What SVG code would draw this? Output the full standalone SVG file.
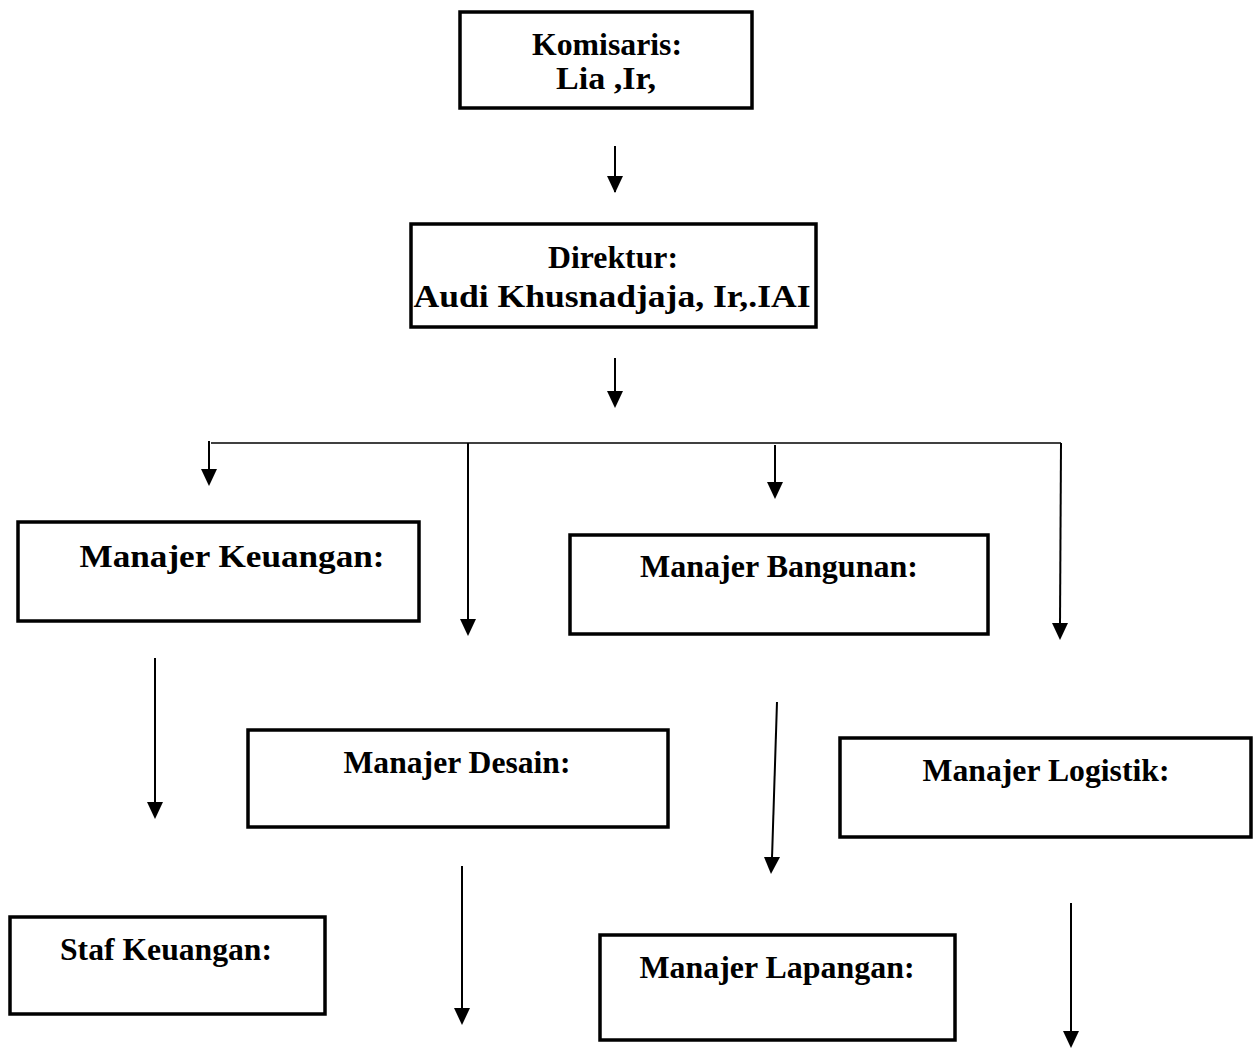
<svg xmlns="http://www.w3.org/2000/svg" width="1253" height="1048" viewBox="0 0 1253 1048">
<style>
.box{fill:#fff;stroke:#000;stroke-width:3.5}
.t{font-family:"Liberation Serif","Times New Roman",serif;font-weight:bold;font-size:32px;fill:#000;text-anchor:middle}
.c{fill:none;stroke:#000;stroke-width:2}
</style>
<rect width="1253" height="1048" fill="#fff"/>
<g id="connectors">
<line class="c" x1="615" y1="146" x2="615" y2="192"/>
<path d="M607,176 L623,176 L615,193 Z"/>
<line class="c" x1="615" y1="358" x2="615" y2="392"/>
<path d="M607,391 L623,391 L615,408 Z"/>
<line class="c" x1="211" y1="443" x2="1061" y2="443" style="stroke-width:1.6"/>
<line class="c" x1="209" y1="441" x2="209" y2="470"/>
<path d="M201,469 L217,469 L209,486 Z"/>
<line class="c" x1="468" y1="443" x2="468" y2="620"/>
<path d="M460,619 L476,619 L468,636 Z"/>
<line class="c" x1="775" y1="445" x2="775" y2="483"/>
<path d="M767,482 L783,482 L775,499 Z"/>
<line class="c" x1="1061" y1="443" x2="1060" y2="624"/>
<path d="M1052,623 L1068,623 L1060,640 Z"/>
<line class="c" x1="155" y1="658" x2="155" y2="803"/>
<path d="M147,802 L163,802 L155,819 Z"/>
<line class="c" x1="777" y1="702" x2="772" y2="858"/>
<path d="M764,857 L780,857 L771,874 Z"/>
<line class="c" x1="462" y1="866" x2="462" y2="1009"/>
<path d="M454,1008 L470,1008 L462,1025 Z"/>
<line class="c" x1="1071" y1="903" x2="1071" y2="1032"/>
<path d="M1063,1031 L1079,1031 L1071,1048 Z"/>
</g>
<g id="komisaris">
<rect class="box" x="460" y="12" width="292" height="96"/>
<text class="t" x="607" y="55" textLength="150" lengthAdjust="spacingAndGlyphs">Komisaris:</text>
<text class="t" x="606" y="89" textLength="100" lengthAdjust="spacingAndGlyphs">Lia ,Ir,</text>
</g>
<g id="direktur">
<rect class="box" x="411" y="224" width="405" height="103"/>
<text class="t" x="613" y="268" textLength="130" lengthAdjust="spacingAndGlyphs">Direktur:</text>
<text class="t" x="612" y="307" textLength="397" lengthAdjust="spacingAndGlyphs">Audi Khusnadjaja, Ir,.IAI</text>
</g>
<g id="manajer-keuangan">
<rect class="box" x="18" y="522" width="401" height="99"/>
<text class="t" x="232" y="567" textLength="305" lengthAdjust="spacingAndGlyphs">Manajer Keuangan:</text>
</g>
<g id="manajer-bangunan">
<rect class="box" x="570" y="535" width="418" height="99"/>
<text class="t" x="779" y="577" textLength="278" lengthAdjust="spacingAndGlyphs">Manajer Bangunan:</text>
</g>
<g id="manajer-desain">
<rect class="box" x="248" y="730" width="420" height="97"/>
<text class="t" x="457" y="773" textLength="227" lengthAdjust="spacingAndGlyphs">Manajer Desain:</text>
</g>
<g id="manajer-logistik">
<rect class="box" x="840" y="738" width="411" height="99"/>
<text class="t" x="1046" y="781" textLength="247" lengthAdjust="spacingAndGlyphs">Manajer Logistik:</text>
</g>
<g id="staf-keuangan">
<rect class="box" x="10" y="917" width="315" height="97"/>
<text class="t" x="166" y="960" textLength="212" lengthAdjust="spacingAndGlyphs">Staf Keuangan:</text>
</g>
<g id="manajer-lapangan">
<rect class="box" x="600" y="935" width="355" height="105"/>
<text class="t" x="777" y="978" textLength="275" lengthAdjust="spacingAndGlyphs">Manajer Lapangan:</text>
</g>
</svg>
